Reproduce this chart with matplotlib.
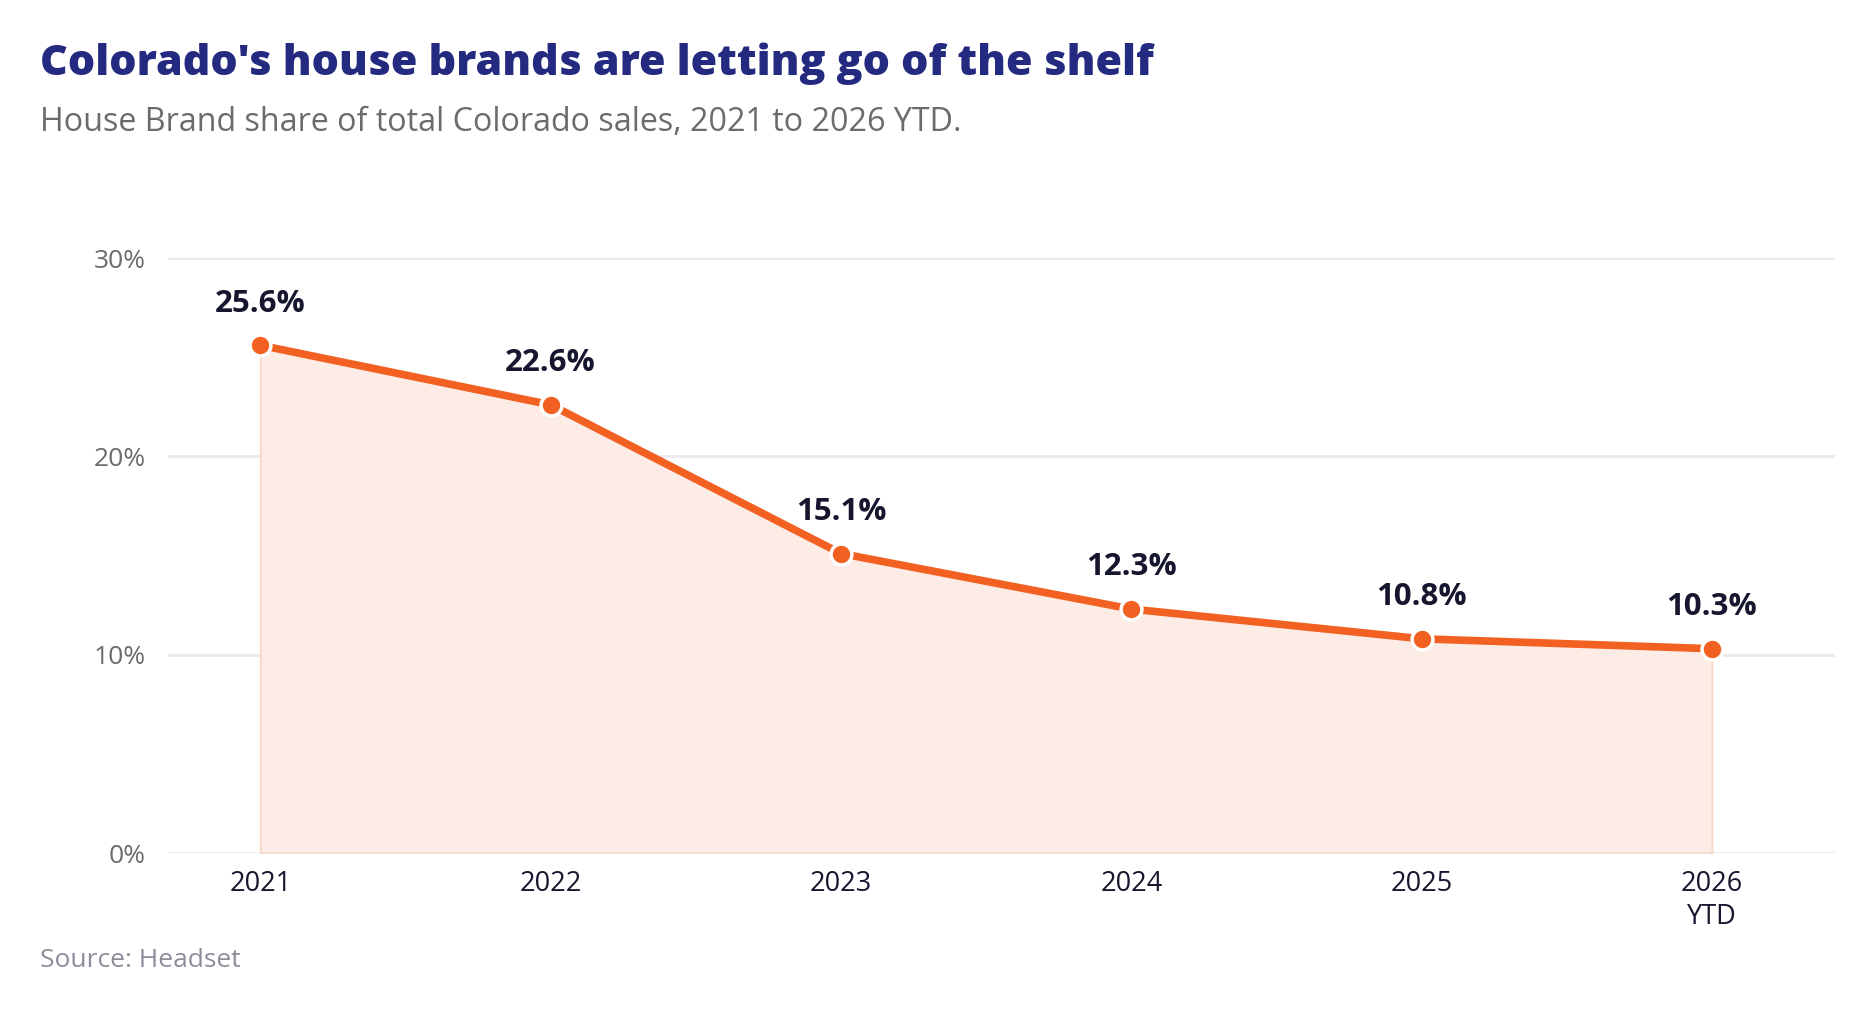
import matplotlib
matplotlib.use("Agg")
import matplotlib.pyplot as plt

# data
years = ["2021", "2022", "2023", "2024", "2025", "2026\nYTD"]
share_pct = [25.6, 22.6, 15.1, 12.3, 10.8, 10.3]
y_ticks = [0, 10, 20, 30]

TITLE = "Colorado's house brands are letting go of the shelf"
SUBTITLE = "House Brand share of total Colorado sales, 2021 to 2026 YTD."
SOURCE = "Source: Headset"

ORANGE = "#f26122"
FILL = "#fdece5"
FILL_EDGE = "#f9d9cb"
GRID = "#ebe9ef"
NAVY = "#232a80"
INK = "#16162e"

plt.rcParams["font.family"] = ["Open Sans", "DejaVu Sans"]

W, H = 1872, 1013
fig = plt.figure(figsize=(W / 100, H / 100), dpi=100)
ax = fig.add_axes([168 / W, 1 - 853 / H, (1835 - 168) / W, (853 - 258) / H])

x = list(range(len(years)))
ax.fill_between(x, share_pct, 0, color=FILL, edgecolor=FILL_EDGE,
                linewidth=1.5, zorder=1)
ax.plot(x, share_pct, color=ORANGE, linewidth=5.5, solid_capstyle="round",
        zorder=3)
ax.plot(x, share_pct, linestyle="none", marker="o", markersize=15,
        markerfacecolor=ORANGE, markeredgecolor="white", markeredgewidth=2.5,
        zorder=4)

for xi, v in zip(x, share_pct):
    ax.annotate(f"{v:.1f}%", (xi, v), xytext=(0, 30), textcoords="offset points",
                ha="center", va="center", fontsize=22.5, fontweight="bold",
                color=INK, zorder=5)

ax.set_xlim(-0.318, 5.424)
ax.set_ylim(0, 30)
ax.set_yticks(y_ticks)
ax.set_yticklabels([f"{t}%" for t in y_ticks])
ax.set_xticks(x)
ax.set_xticklabels(years, linespacing=1.25)

ax.grid(axis="y", color=GRID, linewidth=2)
ax.grid(axis="x", visible=False)
ax.set_axisbelow(True)
for s in ax.spines.values():
    s.set_visible(False)
ax.tick_params(axis="y", length=0, pad=16, labelsize=19, labelcolor="#6b6b6b")
ax.tick_params(axis="x", length=0, pad=12, labelsize=19.5, labelcolor=INK)

fig.text(40 / W, 1 - 64 / H, TITLE, fontsize=31, fontweight="heavy",
         color=NAVY, va="center", ha="left")
fig.text(40 / W, 1 - 122 / H, SUBTITLE, fontsize=23.2, color="#6b6b6b",
         va="center", ha="left")
fig.text(40 / W, 1 - 960 / H, SOURCE, fontsize=19, color="#8e8c9a",
         va="center", ha="left")

fig.savefig("out.png", dpi=100)
